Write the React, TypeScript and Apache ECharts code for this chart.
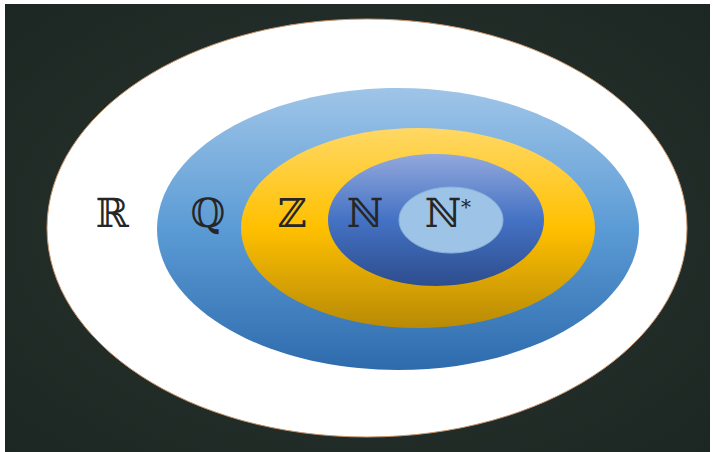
import React, { useEffect, useRef } from "react";
import * as echarts from "echarts";

// Nested number sets (diagram units = pixels of a 713 x 452 canvas)
const setLabels = ["ℝ", "ℚ", "ℤ", "ℕ", "ℕ*"];
const ellipseCx = [367, 398, 418, 436, 451];
const ellipseCy = [228, 229, 228, 220, 220];
const ellipseRx = [320, 241, 177, 108, 52];
const ellipseRy = [209, 141, 100, 66, 33];
const labelX = [112, 208, 292, 365, 443];
const labelY = [233, 233, 233, 233, 233];

const W = 713;
const H = 452;

function fillFor(i: number) {
  const G = echarts.graphic.LinearGradient;
  switch (i) {
    case 0:
      return "#ffffff";
    case 1:
      return new G(0, 0, 0, 1, [
        { offset: 0, color: "#9fc5e8" },
        { offset: 0.5, color: "#5b9bd5" },
        { offset: 1, color: "#2e6bad" },
      ]);
    case 2:
      return new G(0, 0, 0, 1, [
        { offset: 0, color: "#ffd865" },
        { offset: 0.5, color: "#ffc000" },
        { offset: 1, color: "#b88a06" },
      ]);
    case 3:
      return new G(0, 0, 0, 1, [
        { offset: 0, color: "#93a8dc" },
        { offset: 0.5, color: "#4472c4" },
        { offset: 1, color: "#2d4d8e" },
      ]);
    default:
      return "#9dc3e6";
  }
}

export default function App() {
  const ref = useRef<HTMLDivElement>(null);
  useEffect(() => {
    if (!ref.current) return;
    const chart = echarts.init(ref.current, undefined, { renderer: "svg" });
    const ellipseData = setLabels.map((_, i) => [
      ellipseCx[i],
      ellipseCy[i],
      ellipseRx[i],
      ellipseRy[i],
      i,
    ]);
    const labelData = setLabels.map((name, i) => [labelX[i], labelY[i], name]);
    chart.setOption({
      animation: false,
      backgroundColor: "#ffffff",
      graphic: [
        {
          type: "rect",
          shape: { x: 5, y: 4, width: 705, height: 448 },
          style: {
            fill: new echarts.graphic.RadialGradient(0.5, 0.5, 0.75, [
              { offset: 0, color: "#2b3732" },
              { offset: 1, color: "#1b2521" },
            ]),
          },
          z: -10,
        },
      ],
      grid: { left: 0, right: 0, top: 0, bottom: 0 },
      xAxis: { type: "value", min: 0, max: W, show: false },
      yAxis: { type: "value", min: 0, max: H, inverse: true, show: false },
      series: [
        {
          type: "custom",
          data: ellipseData,
          z: 2,
          renderItem: (params: any, api: any) => {
            const c = api.coord([api.value(0), api.value(1)]);
            const s = api.size([api.value(2), api.value(3)]);
            const i = api.value(4);
            const stroke =
              i === 0 ? "#c9956c" : i === 4 ? "#8ab1dc" : "none";
            return {
              type: "ellipse",
              shape: { cx: c[0], cy: c[1], rx: s[0], ry: s[1] },
              style: {
                fill: fillFor(i),
                stroke,
                lineWidth: 1,
              },
            };
          },
        },
        {
          type: "custom",
          data: labelData,
          z: 3,
          renderItem: (params: any, api: any) => {
            const c = api.coord([api.value(0), api.value(1)]);
            const name = String(labelData[params.dataIndex][2]);
            const sup = name.endsWith("*");
            const base = sup ? name.slice(0, -1) : name;
            const children: any[] = [
              {
                type: "text",
                x: c[0],
                y: c[1],
                style: {
                  text: base,
                  fill: "#262626",
                  font: "normal 40px 'DejaVu Serif', 'DejaVu Sans', serif",
                  align: "center",
                  verticalAlign: "bottom",
                },
              },
            ];
            if (sup) {
              children.push({
                type: "text",
                x: c[0] + 18,
                y: c[1] - 26,
                style: {
                  text: "*",
                  fill: "#262626",
                  font: "normal 20px 'DejaVu Serif', serif",
                  align: "left",
                  verticalAlign: "middle",
                },
              });
            }
            return { type: "group", children };
          },
        },
      ],
    });
    return () => chart.dispose();
  }, []);
  return (
    <div
      ref={ref}
      style={{ position: "fixed", left: 0, top: 0, width: W, height: H }}
    />
  );
}
